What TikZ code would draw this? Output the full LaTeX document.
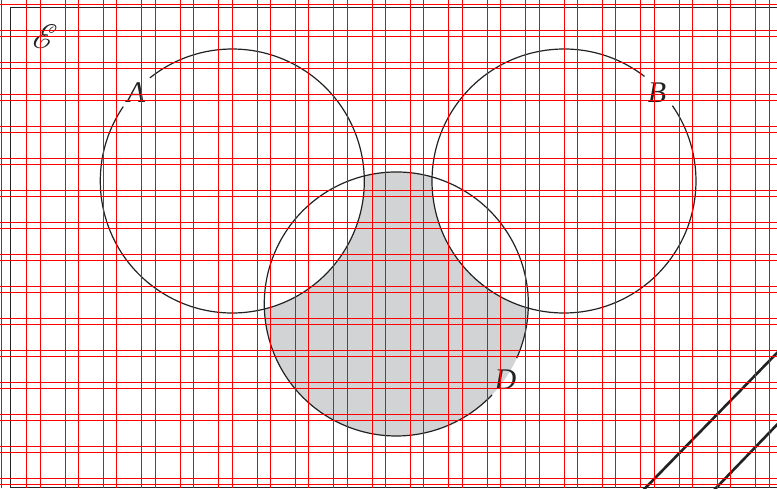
\documentclass[tikz,border=0pt]{standalone}
\usepackage{fontspec}
\setmainfont{Liberation Serif}
\usepackage{mathrsfs}
\usepackage{graphicx}
\definecolor{shadegray}{RGB}{210,211,213}
\definecolor{inkline}{RGB}{34,34,34}
\tikzset{
  gridline/.style={draw=red, line width=0.9pt},
  setline/.style={draw=inkline, line width=1.2pt},
  frameline/.style={draw=inkline, line width=1.5pt},
  hatchline/.style={draw=inkline, line width=2.6pt},
  setlabel/.style={inner sep=0pt, font=\fontsize{30}{34}\selectfont\itshape, text=inkline},
}
\begin{document}
\begin{tikzpicture}[x=1pt,y=1pt]
\useasboundingbox (0,0) rectangle (777,488);
\clip (0,0) rectangle (777,488);
\fill[white] (0,0) rectangle (777,488);
% centres
\coordinate (cA) at (232.3,307);
\coordinate (cB) at (564,307);
\coordinate (cD) at (396.3,184);
% shaded region D minus (A u B)
\fill[shadegray] (cD) circle[radius=132];
\fill[white] (cA) circle[radius=132];
\fill[white] (cB) circle[radius=132];
% frame
\coordinate (f1) at (10.7,0.7);
\coordinate (f2) at (795,480.7);
\draw[frameline] (f1) rectangle (f2);
% circles with gaps at the labels
\draw[setline] (cA) ++(145.7:132) arc[start angle=145.7, end angle=488.6, radius=132];
\draw[setline] (cB) ++(52.4:132) arc[start angle=52.4, end angle=394.8, radius=132];
\draw[setline] (cD) ++(-24.2:132) arc[start angle=-24.2, end angle=316.5, radius=132];
% labels
\node[setlabel] (lA) at (136,395) {A};
\node[setlabel] (lB) at (657,395) {B};
\node[setlabel] (lD) at (505.5,108) {D};
\node[inner sep=0pt, text=inkline] (lE) at (45,451) {\scalebox{3.4}{$\mathscr{E}$}};
% diagonal strokes bottom right
\coordinate (h1a) at (635,-10.6);
\coordinate (h1b) at (800,158.6);
\coordinate (h2a) at (706,-10.4);
\coordinate (h2b) at (800,87.2);
\draw[hatchline] (h1a) -- (h1b);
\draw[hatchline] (h2a) -- (h2b);
% red grid overlay
\foreach \k in {0,...,20} \draw[gridline] ({1.7+38.38*\k},0) -- ({1.7+38.38*\k},488);
\foreach \k in {0,...,19} \draw[gridline] ({26.7+38.38*\k},0) -- ({26.7+38.38*\k},488);
\foreach \k in {0,...,15} \draw[gridline] (0,{488-4.3-32*\k}) -- (777,{488-4.3-32*\k});
\foreach \k in {0,...,14} \draw[gridline] (0,{488-30-32*\k}) -- (777,{488-30-32*\k});
\end{tikzpicture}
\end{document}
